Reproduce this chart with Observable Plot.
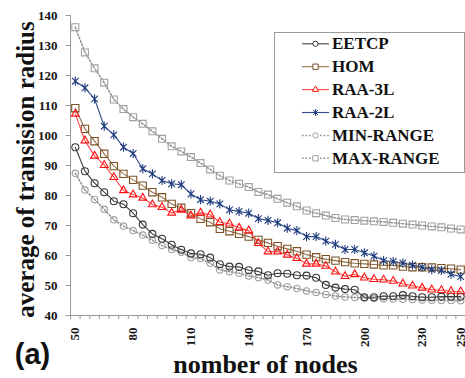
<!DOCTYPE html>
<html><head><meta charset="utf-8">
<script src="https://cdn.jsdelivr.net/npm/d3@7"></script>
<script src="https://cdn.jsdelivr.net/npm/@observablehq/plot@0.6"></script>
<style>
html,body{margin:0;padding:0;background:#fff;}
#wrap{position:relative;width:465px;height:378px;overflow:hidden;background:#fff;}
#legend{position:absolute;left:274px;top:32px;}
</style></head><body>
<div id="wrap"></div>
<script>
const nodes = [50,55,60,65,70,75,80,85,90,95,100,105,110,115,120,125,130,135,140,145,150,155,160,165,170,175,180,185,190,195,200,205,210,215,220,225,230,235,240,245,250];
const eetcp = [96.1,88.1,84.1,81.1,78.1,77.1,74.1,70.3,67.2,65.6,63.6,61.9,60.7,60.4,59.3,57.1,56.3,56.2,55.1,54.7,53.4,54.1,53.9,53.4,53.3,52.6,50.2,49.3,48.8,48.6,46.1,46.1,46.4,46.4,46.8,46.4,46.1,46.1,46.3,46.3,46.3];
const hom = [109.1,102.2,98.1,93.9,89.8,87.2,85.2,83.3,81.1,79.4,77.2,75.9,74.1,72.2,71.1,68.9,68.1,67.2,66.3,65.2,64.2,63.1,62.2,61.4,60.3,59.4,58.8,58.3,57.8,57.4,57.2,57.0,56.7,56.7,56.3,56.1,56.1,56.0,55.8,55.6,55.3];
const raa3l = [107.2,98.3,93.2,90.1,86.1,81.7,80.3,79.2,77.0,76.1,74.2,75.2,73.3,74.2,73.6,71.1,70.6,69.2,68.3,64.1,61.3,61.3,60.2,59.1,57.2,57.2,56.5,54.6,53.1,53.7,52.6,52.1,51.9,51.5,50.6,49.9,49.2,48.6,48.4,48.1,48.0];
const raa2l = [118.1,115.9,112.2,103.1,100.2,96.1,94.0,88.9,87.2,85.0,83.9,83.6,80.5,78.6,78.1,77.2,75.2,74.7,74.1,72.3,71.7,70.9,69.1,68.3,66.3,66.3,64.8,63.7,62.0,62.0,60.9,59.8,58.3,58.0,57.5,56.8,56.1,55.3,55.0,53.8,53.0];
const minRange = [87.4,81.8,78.7,75.4,71.9,69.8,68.3,66.8,65.1,63.3,62.0,61.1,59.3,59.0,57.4,55.2,54.6,54.1,53.2,52.6,51.8,50.2,49.6,49.0,48.2,47.7,47.0,46.5,46.2,46.0,45.8,45.7,45.6,45.5,45.4,45.3,45.2,45.1,45.0,45.0,44.9];
const maxRange = [136.1,127.7,122.4,117.6,112.0,108.8,106.1,103.9,101.4,98.9,96.4,94.7,92.8,90.8,88.7,86.6,85.0,83.9,82.8,81.2,80.3,78.9,77.6,76.4,75.0,74.1,73.3,72.5,72.0,71.8,71.6,71.4,71.2,70.9,70.6,70.3,70.0,69.7,69.4,69.0,68.7];

const seriesNames = ["EETCP","HOM","RAA-3L","RAA-2L","MIN-RANGE","MAX-RANGE"];
const seriesValues = [eetcp, hom, raa3l, raa2l, minRange, maxRange];
const yTicks = [40,50,60,70,80,90,100,110,120,130,140];
const xTickLabels = [50,80,110,140,170,200,230,250];
const xDomain = [47.5, 252.5];
const yDomain = [40, 140];
const xTitle = "nomber of nodes";
const yTitle = "average of transision radius";
const panelLabel = "(a)";

const star = {draw(ctx, size){ const r = Math.sqrt(size/Math.PI); const d = r*0.72;
  ctx.moveTo(-d,-d); ctx.lineTo(d,d); ctx.moveTo(d,-d); ctx.lineTo(-d,d); ctx.moveTo(0,-r); ctx.lineTo(0,r); }};

const styles = {
  "EETCP":     {mark:"#383838", line:"#404040", symbol:"circle",   r:3.5, lr:2.6, dash:null},
  "HOM":       {mark:"#7e5124", line:"#93704d", symbol:"square",   r:4.1, lr:3.0, dash:null},
  "RAA-3L":    {mark:"#ff1010", line:"#ff4a4a", symbol:"triangle", r:2.9, lr:2.3, dash:null},
  "RAA-2L":    {mark:"#1f3b7c", line:"#2d4b8b", symbol:star,       r:4.6, lr:3.4, dash:null},
  "MIN-RANGE": {mark:"#a0a0a0", line:"#8f8f8f", symbol:"circle",   r:3.2, lr:2.6, dash:"1.6 2"},
  "MAX-RANGE": {mark:"#a0a0a0", line:"#8f8f8f", symbol:"square",   r:3.9, lr:3.0, dash:"1.6 2"}
};

const rows = seriesNames.flatMap((s, i) => nodes.map((n, j) => ({s, n, v: seriesValues[i][j]})));
const xMinorTicks = d3.range(xDomain[0], xDomain[1] + 0.1, 5);

const serif = "Liberation Serif";
const order = ["MIN-RANGE","MAX-RANGE","EETCP","HOM","RAA-3L","RAA-2L"];
const seriesMarks = order.flatMap(name => {
  const st = styles[name];
  const data = rows.filter(d => d.s === name);
  return [
    Plot.line(data, {x: "n", y: "v", stroke: st.line, strokeWidth: st.dash ? 1.5 : 1.1, strokeDasharray: st.dash ?? undefined}),
    Plot.dot(data, {x: "n", y: "v", symbol: st.symbol, r: st.r, stroke: st.mark, fill: "none", strokeWidth: 1.1})
  ];
});

const chart = Plot.plot({
  width: 465, height: 378,
  marginLeft: 70, marginRight: 0, marginTop: 15, marginBottom: 63,
  x: {domain: xDomain},
  y: {domain: yDomain},
  style: {fontFamily: serif, background: "white", overflow: "visible"},
  marks: [
    Plot.ruleX([xDomain[0]], {stroke: "#9a9a9a"}),
    Plot.ruleY([yDomain[0]], {stroke: "#9a9a9a"}),
    Plot.axisY({ticks: yTicks, tickSize: 4.5, tickPadding: 8.5, stroke: "#9a9a9a", fill: "#151515", fontSize: 13, fontWeight: "bold", label: null}),
    Plot.axisX({ticks: xMinorTicks, tickSize: 4, tickFormat: () => "", stroke: "#9a9a9a", label: null}),
    Plot.text(xTickLabels, {x: d => d, text: d => String(d), frameAnchor: "bottom", dy: 12, rotate: -90, textAnchor: "end", lineAnchor: "middle", fontSize: 13, fontWeight: "bold", fill: "#151515"}),
    ...seriesMarks,
    Plot.text([yTitle], {text: d => d, frameAnchor: "left", dx: -45, dy: 4, rotate: -90, textAnchor: "middle", lineAnchor: "middle", fontSize: 25, fontWeight: "bold", fill: "#111"}),
    Plot.text([xTitle], {text: d => d, frameAnchor: "bottom", dx: -2.5, dy: 48.7, textAnchor: "middle", lineAnchor: "middle", fontSize: 26, fontWeight: "bold", fill: "#111"}),
    Plot.text([panelLabel], {text: d => d, frameAnchor: "bottom-left", dx: -38, dy: 39, textAnchor: "middle", lineAnchor: "middle", fontSize: 29, fontWeight: "bold", fontFamily: "Liberation Sans", fill: "#111"})
  ]
});
document.getElementById("wrap").appendChild(chart);

// legend
const lg = d3.select("#wrap").append("svg").attr("id", "legend").attr("width", 191).attr("height", 141);
lg.append("rect").attr("x", 0.5).attr("y", 0.5).attr("width", 190).attr("height", 140).attr("fill", "#fff").attr("stroke", "#9a9a9a");
seriesNames.forEach((name, i) => {
  const st = styles[name];
  const yy = 11.8 + i * 22.9;
  const g = lg.append("g").attr("transform", `translate(0,${yy})`);
  g.append("line").attr("x1", 28).attr("x2", 55).attr("y1", 0).attr("y2", 0)
    .attr("stroke", st.line).attr("stroke-width", st.dash ? 1.5 : 1.1)
    .attr("stroke-dasharray", st.dash);
  const symType = typeof st.symbol === "string"
    ? {circle: d3.symbolCircle, square: d3.symbolSquare, triangle: d3.symbolTriangle}[st.symbol]
    : st.symbol;
  g.append("path").attr("transform", "translate(41.5,0)")
    .attr("d", d3.symbol(symType, Math.PI * st.lr * st.lr)())
    .attr("fill", "#fff").attr("stroke", st.mark).attr("stroke-width", 1);
  g.append("text").attr("x", 58).attr("y", 5.6).text(name)
    .attr("font-family", serif).attr("font-weight", "bold").attr("font-size", 17).attr("fill", "#111");
});
</script>
</body></html>
